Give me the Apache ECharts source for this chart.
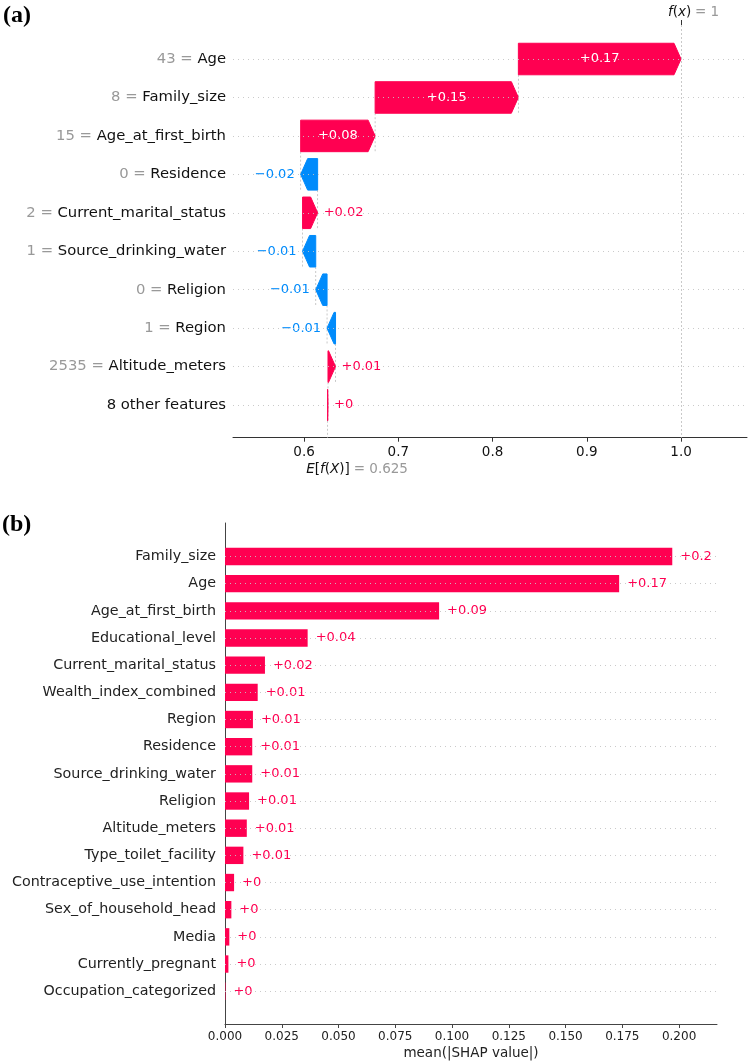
<!DOCTYPE html>
<html lang="en">
<head>
    <meta charset="UTF-8">
    <title>SHAP waterfall and bar plot</title>
    <style>
        html, body { margin: 0; padding: 0; background: #fff; }
        div#container { width: 750px; height: 1061px; }
    </style>
</head>
<body>
    <div id="container"></div>
    <script src="https://cdn.jsdelivr.net/npm/echarts@6/dist/echarts.min.js"></script>
    <script>
        // (a) waterfall for one observation, rows top to bottom
        var waterFeatures = ['Age', 'Family_size', 'Age_at_first_birth', 'Residence', 'Current_marital_status',
            'Source_drinking_water', 'Religion', 'Region', 'Altitude_meters', '8 other features'];
        var waterInputs = ['43', '8', '15', '0', '2', '1', '0', '1', '2535', ''];
        var waterShap = [0.1726, 0.152, 0.079, -0.018, 0.016, -0.014, -0.012, -0.009, 0.008, 0.0004];
        var baseValue = 0.625;
        var waterTicks = [0.6, 0.7, 0.8, 0.9, 1.0];

        // (b) mean(|SHAP value|), rows top to bottom
        var barFeatures = ['Family_size', 'Age', 'Age_at_first_birth', 'Educational_level', 'Current_marital_status',
            'Wealth_index_combined', 'Region', 'Residence', 'Source_drinking_water', 'Religion', 'Altitude_meters',
            'Type_toilet_facility', 'Contraceptive_use_intention', 'Sex_of_household_head', 'Media',
            'Currently_pregnant', 'Occupation_categorized'];
        var barMeanAbs = [0.197, 0.1736, 0.0943, 0.0364, 0.0176, 0.0144, 0.0123, 0.012, 0.012, 0.0106, 0.0096,
            0.0081, 0.004, 0.0028, 0.0019, 0.0015, 0.0002];
        var barTicks = [0, 0.025, 0.05, 0.075, 0.1, 0.125, 0.15, 0.175, 0.2];

        var RED = '#ff0051';
        var BLUE = '#008bfb';
        var FONT = 'DejaVu Sans';

        function fmtShap(v) {
            var s = parseFloat(Math.abs(v).toFixed(2));
            return (v < 0 ? '\u2212' : '+') + s;
        }

        // cumulate from the bottom row up, starting at the base value
        var waterData = [];
        var pos = baseValue;
        for (var i = waterShap.length - 1; i >= 0; i--) {
            waterData.unshift([i, pos, pos + waterShap[i], waterShap[i]]);
            pos += waterShap[i];
        }
        var fx = parseFloat(pos.toFixed(3));

        var wMin = -0.885, wMax = waterFeatures.length - 1 + 0.85;
        var bMin = -1.233, bMax = barFeatures.length - 1 + 1.207;

        var rowLines = function (n) {
            var d = [];
            for (var k = 0; k < n; k++) d.push({ yAxis: k });
            return d;
        };
        var idx = function (n) {
            var d = [];
            for (var k = 0; k < n; k++) d.push(k);
            return d;
        };

        var chart = echarts.init(document.getElementById('container'));
        var options = {
            animation: false,
            textStyle: { fontFamily: FONT },
            title: [
                { text: '(a)', left: 3, top: 4, padding: 0,
                  textStyle: { fontFamily: 'Liberation Serif', fontWeight: 'bold', fontSize: 24, color: '#000' } },
                { text: '(b)', left: 2, top: 513, padding: 0,
                  textStyle: { fontFamily: 'Liberation Serif', fontWeight: 'bold', fontSize: 24, color: '#000' } }
            ],
            grid: [
                { left: 233, right: 3, top: 25, bottom: 1061 - 437.7 },
                { left: 225, right: 33, top: 523, bottom: 33 }
            ],
            xAxis: [
                {   // (a) main axis
                    gridIndex: 0, type: 'value', position: 'bottom', min: 0.5246, max: 1.07,
                    axisLine: { onZero: false, lineStyle: { color: '#333', width: 1 } },
                    axisTick: { customValues: waterTicks, length: 4, lineStyle: { color: '#333' } },
                    axisLabel: { customValues: waterTicks, margin: 8, fontSize: 13.5, color: '#111',
                        formatter: function (v) { return v.toFixed(1); } },
                    splitLine: { show: false }
                },
                {   // (a) expected value label
                    gridIndex: 0, type: 'value', position: 'bottom', min: 0.5246, max: 1.07,
                    axisLine: { show: false, onZero: false }, axisTick: { show: false }, splitLine: { show: false },
                    axisLabel: {
                        customValues: [baseValue], margin: 25, padding: [0, 0, 0, 59],
                        formatter: function (v) {
                            return '{i|E}{n|[}{i|f}{n|(}{i|X}{n|)]} {g|= ' + v + '}';
                        },
                        rich: {
                            i: { fontStyle: 'italic', fontSize: 13.5, color: '#111', fontFamily: FONT },
                            n: { fontSize: 13.5, color: '#111', fontFamily: FONT },
                            g: { fontSize: 13.5, color: '#999', fontFamily: FONT }
                        }
                    }
                },
                {   // (a) model output label
                    gridIndex: 0, type: 'value', position: 'top', min: 0.5246, max: 1.07,
                    axisLine: { show: false, onZero: false }, splitLine: { show: false },
                    axisTick: { customValues: [fx], length: 5, lineStyle: { color: '#333' } },
                    axisLabel: {
                        customValues: [fx], margin: 6, padding: [0, 0, 0, 25],
                        formatter: function (v) { return '{i|f}{n|(}{i|x}{n|)} {g|= ' + v + '}'; },
                        rich: {
                            i: { fontStyle: 'italic', fontSize: 13.5, color: '#111', fontFamily: FONT },
                            n: { fontSize: 13.5, color: '#111', fontFamily: FONT },
                            g: { fontSize: 13.5, color: '#999', fontFamily: FONT }
                        }
                    }
                },
                {   // (b)
                    gridIndex: 1, type: 'value', min: 0, max: 0.2167,
                    axisLine: { onZero: false, lineStyle: { color: '#444', width: 1 } },
                    axisTick: { customValues: barTicks, length: 4, lineStyle: { color: '#444' } },
                    axisLabel: { customValues: barTicks, margin: 7, fontSize: 12, color: '#222',
                        formatter: function (v) { return v.toFixed(3); } },
                    splitLine: { show: false },
                    name: 'mean(|SHAP value|)', nameLocation: 'middle', nameGap: 22,
                    nameTextStyle: { fontSize: 13.5, color: '#222', fontFamily: FONT }
                }
            ],
            yAxis: [
                {
                    gridIndex: 0, type: 'value', inverse: true, min: wMin, max: wMax,
                    axisLine: { show: false, onZero: false }, axisTick: { show: false }, splitLine: { show: false },
                    axisLabel: {
                        customValues: idx(waterFeatures.length), margin: 7,
                        formatter: function (v) {
                            var inp = waterInputs[v];
                            return (inp ? '{g|' + inp + ' = }' : '') + '{b|' + waterFeatures[v] + '}';
                        },
                        rich: {
                            g: { fontSize: 14.8, color: '#999', fontFamily: FONT },
                            b: { fontSize: 14.8, color: '#111', fontFamily: FONT }
                        }
                    }
                },
                {
                    gridIndex: 1, type: 'value', inverse: true, min: bMin, max: bMax,
                    axisLine: { show: true, onZero: false, lineStyle: { color: '#444', width: 1 } },
                    axisTick: { show: false }, splitLine: { show: false },
                    axisLabel: {
                        customValues: idx(barFeatures.length), margin: 9, fontSize: 14.3, color: '#222',
                        formatter: function (v) { return barFeatures[v]; }
                    }
                }
            ],
            series: [
                {   // (a) row guides and f(x) line
                    type: 'line', xAxisIndex: 0, yAxisIndex: 0, data: [], z: 1,
                    markLine: {
                        silent: true, symbol: 'none', animation: false, label: { show: false },
                        data: rowLines(waterFeatures.length).map(function (d) {
                            d.lineStyle = { color: '#c4c4c4', type: [1, 4], width: 0.9 };
                            return d;
                        }).concat([{ xAxis: fx, lineStyle: { color: '#bbb', type: [2, 2], width: 0.8 } }])
                    }
                },
                {   // (a) waterfall arrows
                    type: 'custom', xAxisIndex: 0, yAxisIndex: 0, z: 3,
                    data: waterData,
                    renderItem: function (params, api) {
                        var row = api.value(0), a = api.value(1), b = api.value(2), v = api.value(3);
                        var p0 = api.coord([a, row]), p1 = api.coord([b, row]);
                        var band = api.size([0, 1])[1];
                        var h = band * 0.82;
                        var y = p0[1];
                        var dir = b >= a ? 1 : -1;
                        var len = Math.abs(p1[0] - p0[0]);
                        var head = Math.min(len, 7);
                        var xe = p1[0] - dir * head;
                        var color = v >= 0 ? RED : BLUE;
                        var yEnd = row === waterFeatures.length - 1 ? api.coord([a, wMax])[1] : y + band + h / 2;
                        var children = [
                            { type: 'line', shape: { x1: p0[0], y1: y + h / 2, x2: p0[0], y2: yEnd },
                              style: { stroke: '#bbb', lineWidth: 0.8, lineDash: [2, 2] } },
                            { type: 'polygon',
                              shape: { points: [[p0[0], y - h / 2], [xe, y - h / 2], [p1[0], y], [xe, y + h / 2], [p0[0], y + h / 2]] },
                              style: { fill: color, stroke: color, lineWidth: 1 } }
                        ];
                        var txt = fmtShap(v);
                        if (len > 48) {
                            children.push({ type: 'text', style: { text: txt, x: (p0[0] + p1[0]) / 2, y: y,
                                align: 'center', verticalAlign: 'middle', fill: '#fff', fontSize: 13, fontFamily: FONT } });
                        } else {
                            children.push({ type: 'text', style: { text: txt, x: p1[0] + dir * 6, y: y,
                                align: dir > 0 ? 'left' : 'right', verticalAlign: 'middle', fill: color,
                                fontSize: 13, fontFamily: FONT } });
                        }
                        return { type: 'group', children: children };
                    }
                },
                {   // (b) row guides
                    type: 'line', xAxisIndex: 3, yAxisIndex: 1, data: [], z: 1,
                    markLine: {
                        silent: true, symbol: 'none', animation: false, label: { show: false },
                        lineStyle: { color: '#c4c4c4', type: [1, 4], width: 0.9 },
                        data: rowLines(barFeatures.length)
                    }
                },
                {   // (b) bars
                    type: 'custom', xAxisIndex: 3, yAxisIndex: 1, z: 3,
                    data: barMeanAbs.map(function (v, k) { return [k, v]; }),
                    renderItem: function (params, api) {
                        var row = api.value(0), v = api.value(1);
                        var p0 = api.coord([0, row]), p1 = api.coord([v, row]);
                        var h = api.size([0, 1])[1] * 0.64;
                        return { type: 'group', children: [
                            { type: 'rect', shape: { x: p0[0], y: p0[1] - h / 2, width: p1[0] - p0[0], height: h },
                              style: { fill: RED } },
                            { type: 'text', style: { text: fmtShap(v), x: p1[0] + 6, y: p1[1],
                                align: 'left', verticalAlign: 'middle', fill: RED, fontSize: 13, fontFamily: FONT,
                                backgroundColor: '#fff', padding: [0, 2] } }
                        ] };
                    }
                }
            ]
        };
        chart.setOption(options);
    </script>
</body>
</html>
